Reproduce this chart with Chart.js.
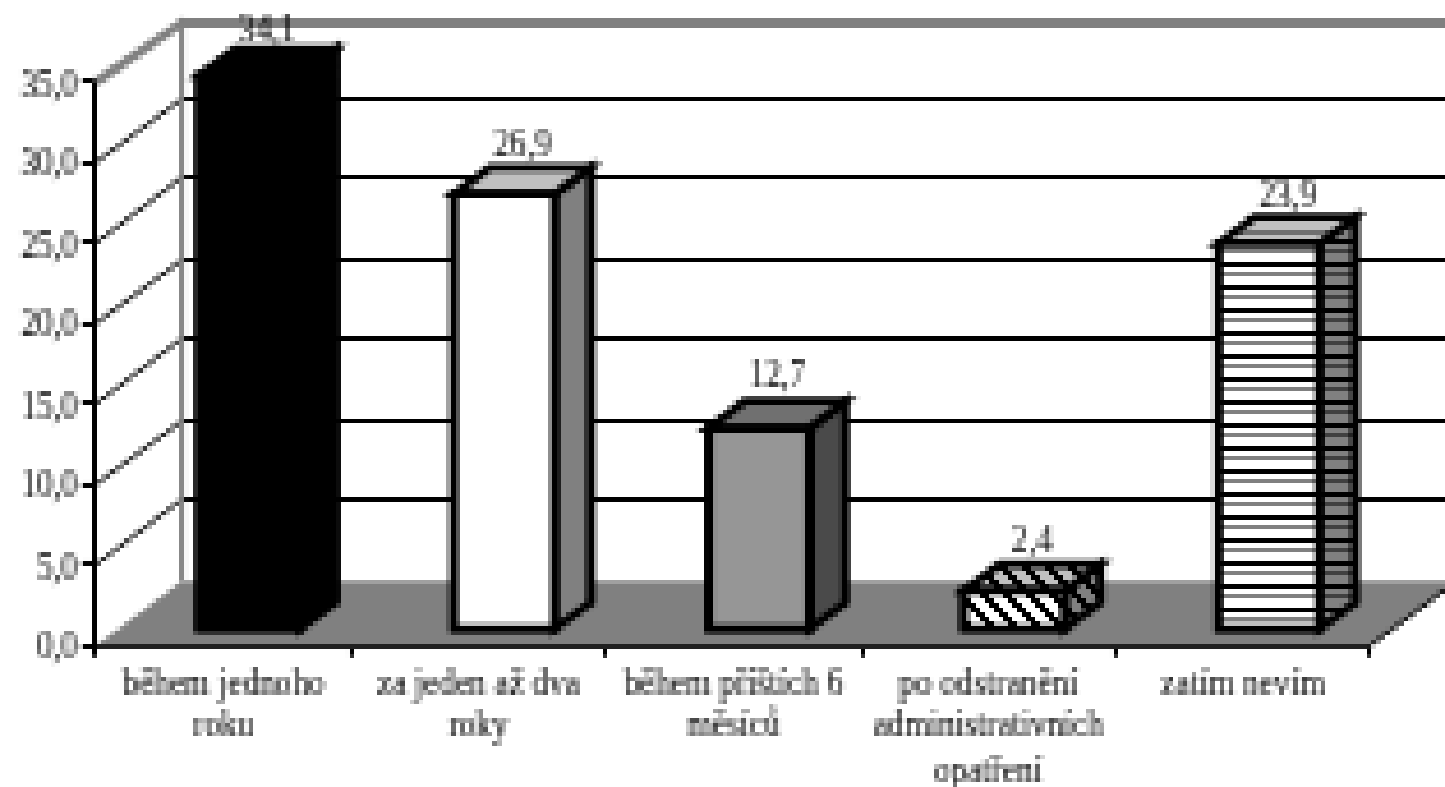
<!DOCTYPE html>
<html lang="cs">
<head>
<meta charset="utf-8">
<title>Graf</title>
<script src="https://cdn.jsdelivr.net/npm/chart.js@4/dist/chart.umd.min.js"></script>
<style>
html, body { margin: 0; padding: 0; background: #fff; overflow: hidden; }
#wrap { width: 1445px; height: 787px; }
canvas { image-rendering: pixelated; }
</style>
</head>
<body>
<div id="wrap"><canvas id="barChart"></canvas></div>
<script>
const categories = [
    ['během jednoho', 'roku'],
    ['za jeden až dva', 'roky'],
    ['během příštích 6', 'měsíců'],
    ['po odstranění', 'administrativních', 'opatření'],
    ['zatím nevím']
];
const values = [34.1, 26.9, 12.7, 2.4, 23.9];
const yTicks = { min: 0, max: 35, step: 5 };

const GRID = '#000000';
const WALL = '#808080';
const pixel = 4.6; // the reference is a small picture blown up
const depth = { x: 86, y: 64 }; // how far the back wall sits behind the axes
const barDepth = { x: 36, y: 27 };
const barShift = { x: 26, y: 12 };
const border = { h: 9, v: 8 }; // border is a little wider on upright edges

// Patterns are given in big pixels, so scale them up to match the picture
function bigPattern(g, c) {
    const p = g.createPattern(c, 'repeat');
    p.setTransform(new DOMMatrix().scale(pixel));
    return p;
}

// Build a repeating fill from a small column of colour rows
function stripes(rows) {
    const c = document.createElement('canvas');
    c.width = 1;
    c.height = rows.length;
    const g = c.getContext('2d');
    rows.forEach((col, i) => {
        g.fillStyle = col;
        g.fillRect(0, i, 1, 1);
    });
    return bigPattern(g, c);
}

function hatch(light, dark) {
    const size = 5;
    const c = document.createElement('canvas');
    c.width = size;
    c.height = size;
    const g = c.getContext('2d');
    for (let y = 0; y < size; y++) {
        for (let x = 0; x < size; x++) {
            g.fillStyle = ((x - y + size) % size) < 2 ? dark : light;
            g.fillRect(x, y, 1, 1);
        }
    }
    return bigPattern(g, c);
}

const fronts = ['#000000', '#ffffff', '#969696', hatch('#ffffff', '#000000'), stripes(['#000', '#fff', '#808080', '#fff', '#fff'])];
const sides = ['#000000', '#808080', '#4a4a4a', hatch('#808080', '#000000'), stripes(['#000', '#808080', '#404040', '#808080', '#808080'])];
const tops = ['#000000', '#c0c0c0', '#707070', hatch('#c0c0c0', '#000000'), stripes(['#c0c0c0', '#c0c0c0', '#707070'])];

function poly(ctx, pts, fill) {
    ctx.beginPath();
    pts.forEach((p, i) => (i ? ctx.lineTo(p[0], p[1]) : ctx.moveTo(p[0], p[1])));
    ctx.closePath();
    if (fill) {
        ctx.fillStyle = fill;
        ctx.fill();
    }
}

// Stroke the current path with a pen that is wider than it is tall
function penStroke(ctx) {
    ctx.save();
    ctx.scale(border.h / border.v, 1);
    ctx.lineWidth = border.v;
    ctx.strokeStyle = '#000';
    ctx.stroke();
    ctx.restore();
}

const snap = v => Math.floor(v / pixel) * pixel + pixel / 2;

// Floor, walls and gridlines of the fake 3D box
const box3d = {
    id: 'box3d',
    beforeDraw(chart) {
        chart.ctx.imageSmoothingEnabled = false;
    },
    beforeDatasetsDraw(chart) {
        const { ctx, scales: { x, y } } = chart;
        const left = x.left;
        const right = x.right;
        const base = y.getPixelForValue(0);
        const top = y.getPixelForValue(yTicks.max);
        ctx.save();

        poly(ctx, [[left, base], [right, base], [right + depth.x, base - depth.y], [left + depth.x, base - depth.y]], WALL);

        ctx.strokeStyle = GRID;
        for (let v = yTicks.step; v < yTicks.max; v += yTicks.step) {
            const py = y.getPixelForValue(v);
            const back = snap(py - depth.y);
            ctx.lineWidth = 4;
            ctx.beginPath();
            ctx.moveTo(left, py);
            ctx.lineTo(left + depth.x, back);
            ctx.stroke();
            ctx.lineWidth = pixel + 0.6;
            ctx.beginPath();
            ctx.moveTo(left + depth.x, back);
            ctx.lineTo(chart.width, back);
            ctx.stroke();
        }
        ctx.lineWidth = 4;
        ctx.beginPath();
        ctx.moveTo(right, base);
        ctx.lineTo(right + depth.x, base - depth.y);
        ctx.stroke();

        ctx.lineWidth = pixel;
        ctx.strokeStyle = WALL;
        ctx.beginPath();
        ctx.moveTo(left + depth.x, top - depth.y);
        ctx.lineTo(left + depth.x, base - depth.y);
        ctx.stroke();

        ctx.lineWidth = pixel * 2;
        ctx.beginPath();
        ctx.moveTo(left, top);
        ctx.lineTo(left + depth.x, 23);
        ctx.lineTo(chart.width, 23);
        ctx.stroke();

        ctx.restore();

        // bars stand a little way in from the front edge
        ctx.save();
        ctx.translate(barShift.x, -barShift.y);
    },
    afterDatasetsDraw(chart) {
        const { ctx, scales: { y } } = chart;
        const bars = chart.getDatasetMeta(0).data;
        const d = barDepth;
        ctx.lineJoin = 'miter';
        bars.forEach((bar, i) => {
            const l = bar.x - bar.width / 2 + border.h / 2;
            const r = bar.x + bar.width / 2 - border.h / 2;
            const t = bar.y + border.v / 2;
            const b = bar.base - border.v / 2;
            poly(ctx, [[r, t], [r + d.x, t - d.y], [r + d.x, b - d.y], [r, b]], sides[i]);
            penStroke(ctx);
            poly(ctx, [[l, t], [l + d.x, t - d.y], [r + d.x, t - d.y], [r, t]], tops[i]);
            penStroke(ctx);
            // refill the front so no seam shows inside the border
            poly(ctx, [[l, t], [r, t], [r, b], [l, b]], fronts[i]);
            penStroke(ctx);
        });

        // value labels follow the axis scale, not the slightly taller bars
        ctx.fillStyle = '#000';
        ctx.font = '33px "Liberation Serif"';
        ctx.textAlign = 'center';
        ctx.textBaseline = 'bottom';
        bars.forEach((bar, i) => {
            ctx.fillText(values[i].toFixed(1).replace('.', ','), bar.x + d.x / 2, y.getPixelForValue(values[i]) - barShift.y - d.y + 3);
        });
        ctx.restore();
    }
};

const xTickFont = { family: '"Liberation Serif"', size: 33, lineHeight: 1.33 };
// tiny line height: the blank first line in the tick callback nudges labels down a few px
const yTickFont = { family: '"Liberation Serif"', size: 33, lineHeight: 0.25 };

new Chart(document.getElementById('barChart'), {
    type: 'bar',
    data: {
        labels: categories,
        datasets: [{
            data: values,
            yAxisID: 'yBars',
            backgroundColor: fronts,
            borderColor: '#000000',
            borderWidth: { left: border.h, right: border.h, top: border.v, bottom: border.v },
            borderSkipped: false,
            barPercentage: 0.43,
            categoryPercentage: 1,
            minBarLength: 46,
            clip: false
        }]
    },
    options: {
        responsive: true,
        maintainAspectRatio: false,
        animation: false,
        devicePixelRatio: 1 / pixel,
        layout: { padding: { top: 82, right: 75, left: 0, bottom: 0 } },
        plugins: { legend: { display: false }, tooltip: { enabled: false } },
        scales: {
            x: {
                grid: { drawOnChartArea: false, drawTicks: true, tickLength: 12, color: '#000', lineWidth: pixel },
                border: { color: '#000', width: pixel },
                ticks: { color: '#000', font: xTickFont, padding: 6, maxRotation: 0, autoSkip: false },
                afterFit(scale) { scale.height = 142; }
            },
            y: {
                min: yTicks.min,
                max: yTicks.max,
                grid: { drawOnChartArea: false, drawTicks: true, tickLength: 14, color: '#000', lineWidth: pixel },
                border: { color: '#000', width: pixel },
                ticks: {
                    stepSize: yTicks.step,
                    color: '#000',
                    font: yTickFont,
                    padding: 4,
                    callback: v => ['', v.toFixed(1).replace('.', ',')]
                },
                afterFit(scale) { scale.width = 96; }
            },
            // bars rise a bit faster than the axis on the front edge
            yBars: { display: false, min: 0, max: 34.2 }
        }
    },
    plugins: [box3d]
});
</script>
</body>
</html>
